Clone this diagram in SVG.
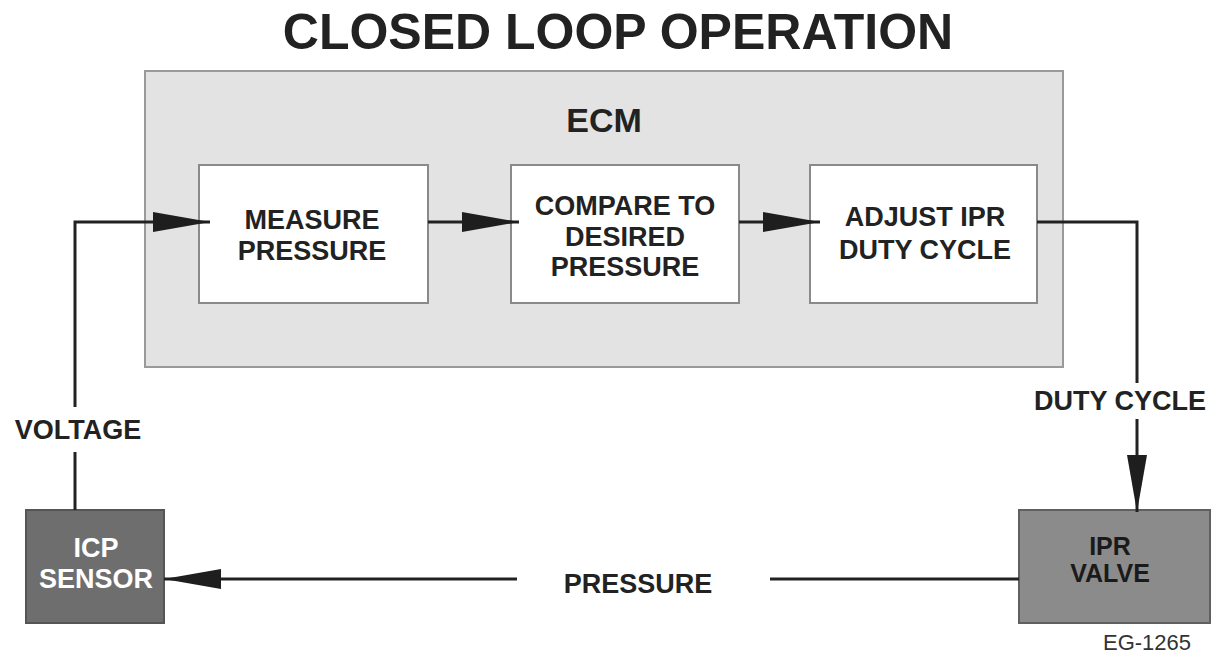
<svg xmlns="http://www.w3.org/2000/svg" width="1216" height="654" viewBox="0 0 1216 654">
  <defs>
    <style>
      text { font-family: "Liberation Sans", Arial, sans-serif; font-weight: bold; fill: #222; text-anchor: middle; }
      .title { font-size: 50px; }
      .ecm-label { font-size: 34px; }
      .step { font-size: 27px; }
      .sig { font-size: 27px; }
      .on-dark { fill: #ffffff; }
      .valve-text { font-size: 25px; fill: #1a1a1a; }
      .frame { fill: #e3e3e3; stroke: #9a9a9a; stroke-width: 2; }
      .step-box { fill: #ffffff; stroke: #8a8a8a; stroke-width: 2; }
      .sensor { fill: #6e6e6e; stroke: #555; stroke-width: 2; }
      .valve { fill: #8b8b8b; stroke: #606060; stroke-width: 2; }
      .wire { fill: none; stroke: #222; stroke-width: 3; }
      .code { font-weight: normal; font-size: 22px; fill: #333; }
    </style>
    <marker id="head" markerUnits="userSpaceOnUse" markerWidth="58" markerHeight="22" refX="57" refY="10" orient="auto">
      <path d="M0,0 L57,10 L0,20 Z" fill="#1e1e1e"/>
    </marker>
  </defs>

  <rect width="1216" height="654" fill="#ffffff"/>

  <text class="title" x="618" y="49">CLOSED LOOP OPERATION</text>

  <!-- engine control module frame -->
  <g id="ecm">
    <rect class="frame" x="145" y="71" width="918" height="296"/>
    <text class="ecm-label" x="604" y="132">ECM</text>
  </g>

  <g id="measure">
    <rect class="step-box" x="199" y="165" width="229" height="138"/>
    <text class="step" x="312" y="229">MEASURE</text>
    <text class="step" x="312" y="260">PRESSURE</text>
  </g>

  <g id="compare">
    <rect class="step-box" x="511" y="165" width="228" height="138"/>
    <text class="step" x="625" y="215">COMPARE TO</text>
    <text class="step" x="625" y="246">DESIRED</text>
    <text class="step" x="625" y="276">PRESSURE</text>
  </g>

  <g id="adjust">
    <rect class="step-box" x="810" y="165" width="227" height="138"/>
    <text class="step" x="925" y="226">ADJUST IPR</text>
    <text class="step" x="925" y="259">DUTY CYCLE</text>
  </g>

  <g id="icp-sensor">
    <rect class="sensor" x="26" y="510" width="138" height="113"/>
    <text class="step on-dark" x="96" y="557">ICP</text>
    <text class="step on-dark" x="96" y="588">SENSOR</text>
  </g>

  <g id="ipr-valve">
    <rect class="valve" x="1019" y="510" width="191" height="113"/>
    <text class="valve-text" x="1110" y="555">IPR</text>
    <text class="valve-text" x="1110" y="582">VALVE</text>
  </g>

  <!-- signal paths -->
  <g id="connectors">
    <!-- sensor voltage into ECM -->
    <path class="wire" d="M75,510 V452"/>
    <path class="wire" d="M75,407 V222 H210" marker-end="url(#head)"/>
    <text class="sig" x="78" y="439">VOLTAGE</text>

    <path class="wire" d="M428,222 H519" marker-end="url(#head)"/>
    <path class="wire" d="M739,222 H820" marker-end="url(#head)"/>

    <!-- duty cycle out to valve -->
    <path class="wire" d="M1037,222 H1137 V383"/>
    <path class="wire" d="M1137,419 V512" marker-end="url(#head)"/>
    <text class="sig" x="1120" y="410">DUTY CYCLE</text>

    <!-- hydraulic pressure back to sensor -->
    <path class="wire" d="M1019,579 H770"/>
    <path class="wire" d="M517,579 H164" marker-end="url(#head)"/>
    <text class="sig" x="638" y="593">PRESSURE</text>
  </g>

  <text class="code" x="1147" y="650">EG-1265</text>
</svg>
